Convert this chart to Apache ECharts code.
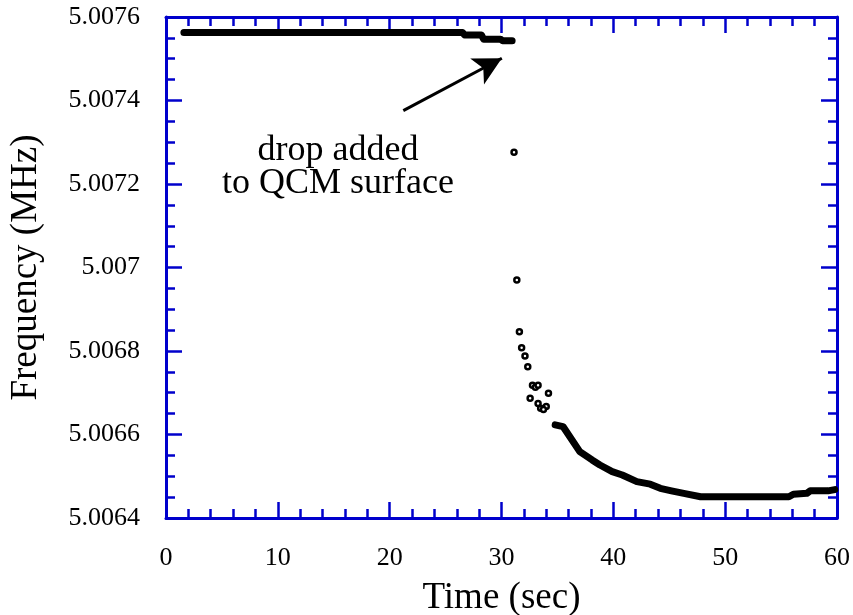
<!DOCTYPE html>
<html>
<head>
<meta charset="utf-8">
<script src="https://cdn.jsdelivr.net/npm/echarts@6/dist/echarts.min.js"></script>
<style>
  html, body { margin: 0; padding: 0; background: #fff; }
  #chart { width: 853px; height: 615px; }
</style>
</head>
<body>
<div id="chart"></div>
<script>
// QCM frequency before the drop is added (time in sec, frequency in MHz)
const beforeTime = [1.6, 26.5, 26.7, 28.2, 28.4, 29.9, 30.1, 30.95];
const beforeFreq = [5.007563, 5.007563, 5.007557, 5.007557, 5.007547, 5.007547, 5.007543, 5.007543];

// the few scattered readings right after the drop
const dropTime = [31.12, 31.37, 31.6, 31.8, 32.1, 32.35, 32.77, 33.03, 33.27, 34.2, 32.56, 33.27, 33.5, 34.0, 33.75];
const dropFreq = [5.007276, 5.00697, 5.006846, 5.006808, 5.006788, 5.006762, 5.006718, 5.006713, 5.006718, 5.006699, 5.006687, 5.006674, 5.006663, 5.006667, 5.00666];

// settling trace after the drop
const afterTime = [34.8, 35.5, 37.0, 38.1, 38.8, 39.9, 40.8, 42.1, 43.3, 44.2, 45.2, 46.3, 47.8, 55.7, 56.1, 57.3, 57.6, 59.2, 59.8];
const afterFreq = [5.006623, 5.006619, 5.006559, 5.006539, 5.006527, 5.006511, 5.006503, 5.006487, 5.006481, 5.006471, 5.006465, 5.006459, 5.006451, 5.006451, 5.006457, 5.006459, 5.006465, 5.006465, 5.006468];

// arrow pointing at the moment the drop went on
const arrowFrom = [21.22, 5.0073756];
const arrowTo = [30.03, 5.0075011];

const frameColor = "#0000cc";
const serif = "'Liberation Serif', 'Times New Roman', serif";

function zipPoints(xs, ys) {
  return xs.map((x, i) => [x, ys[i]]);
}

// every side of the frame gets inward ticks, only bottom/left get labels
function frameAxis(extra) {
  return Object.assign(
    {
      type: "value",
      axisLine: { show: true, onZero: false, lineStyle: { color: frameColor, width: 3 } },
      axisTick: { show: true, inside: true, length: 16, lineStyle: { color: frameColor, width: 2.5 } },
      splitLine: { show: false },
    },
    extra
  );
}

function minor(n) {
  return { show: true, splitNumber: n, length: 9, lineStyle: { color: frameColor, width: 2.5 } };
}

const xBase = { min: 0, max: 60, interval: 10 };
const yBase = { min: 5.0064, max: 5.0076, interval: 0.0002 };

const myChart = echarts.init(document.getElementById("chart"));

myChart.setOption({
  animation: false,
  backgroundColor: "#fff",
  grid: { left: 166, right: 16, top: 17, bottom: 97, containLabel: false, outerBoundsMode: "none" },
  xAxis: [
    frameAxis(
      Object.assign({}, xBase, {
        position: "bottom",
        minorTick: minor(5),
        name: "Time (sec)",
        nameLocation: "middle",
        nameGap: 62,
        nameTextStyle: { fontFamily: serif, fontSize: 37, color: "#000" },
        axisLabel: { margin: 27, fontFamily: serif, fontSize: 26, color: "#000" },
      })
    ),
    frameAxis(
      Object.assign({}, xBase, {
        position: "top",
        minorTick: minor(5),
        axisLabel: { show: false },
      })
    ),
  ],
  yAxis: [
    frameAxis(
      Object.assign({}, yBase, {
        position: "left",
        minorTick: minor(4),
        name: "Frequency (MHz)",
        nameLocation: "middle",
        nameGap: 121,
        nameTextStyle: { fontFamily: serif, fontSize: 37, color: "#000" },
        axisLabel: {
          margin: 26,
          fontFamily: serif,
          fontSize: 26,
          color: "#000",
          formatter: (v) => String(+v.toFixed(4)),
        },
      })
    ),
    frameAxis(
      Object.assign({}, yBase, {
        position: "right",
        minorTick: minor(4),
        axisLabel: { show: false },
      })
    ),
  ],
  series: [
    {
      name: "before drop",
      type: "line",
      data: zipPoints(beforeTime, beforeFreq),
      symbol: "none",
      lineStyle: { color: "#000", width: 7, cap: "round", join: "round" },
    },
    {
      name: "after drop",
      type: "line",
      data: zipPoints(afterTime, afterFreq),
      symbol: "none",
      lineStyle: { color: "#000", width: 7, cap: "round", join: "round" },
    },
    {
      name: "transient",
      type: "scatter",
      data: zipPoints(dropTime, dropFreq),
      symbol: "circle",
      symbolSize: 5,
      itemStyle: { color: "#fff", borderColor: "#000", borderWidth: 2.5, opacity: 1 },
      markLine: {
        silent: true,
        symbol: ["none", "arrow"],
        symbolSize: [22, 28],
        label: { show: false },
        lineStyle: { color: "#000", width: 3, type: "solid" },
        data: [[{ coord: arrowFrom }, { coord: arrowTo }]],
      },
    },
  ],
  graphic: [
    {
      type: "text",
      x: 338,
      y: 167,
      style: {
        text: "drop added\nto QCM surface",
        font: "36px " + serif,
        fill: "#000",
        align: "center",
        verticalAlign: "middle",
        lineHeight: 33,
      },
    },
  ],
});
</script>
</body>
</html>
